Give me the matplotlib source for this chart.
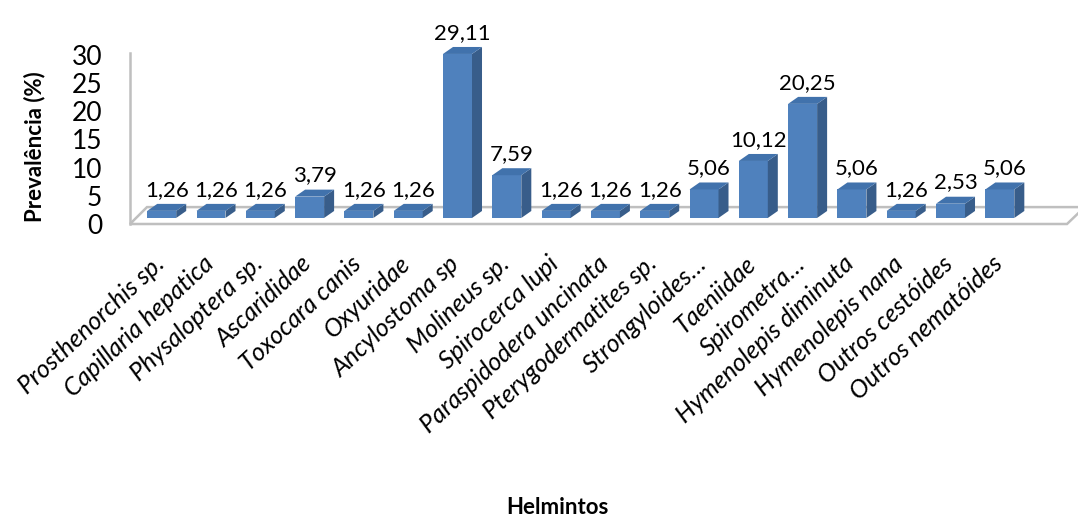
import matplotlib
matplotlib.use("Agg")
import matplotlib.pyplot as plt
from matplotlib.patches import Polygon
from matplotlib.transforms import ScaledTranslation

helmintos = [
    "Prosthenorchis sp.",
    "Capillaria hepatica",
    "Physaloptera sp.",
    "Ascarididae",
    "Toxocara canis",
    "Oxyuridae",
    "Ancylostoma sp",
    "Molineus sp.",
    "Spirocerca lupi",
    "Paraspidodera uncinata",
    "Pterygodermatites sp.",
    "Strongyloides…",
    "Taeniidae",
    "Spirometra…",
    "Hymenolepis diminuta",
    "Hymenolepis nana",
    "Outros cestóides",
    "Outros nematóides",
]
prevalencia = [1.26, 1.26, 1.26, 3.79, 1.26, 1.26, 29.11, 7.59, 1.26,
               1.26, 1.26, 5.06, 10.12, 20.25, 5.06, 1.26, 2.53, 5.06]
yticks = [0, 5, 10, 15, 20, 25, 30]

plt.rcParams["font.family"] = ["Lato", "DejaVu Sans"]

fig = plt.figure(figsize=(10.78, 5.17), dpi=100)
ax = fig.add_axes([130 / 1078, 293 / 517, 945 / 1078, 180.3 / 517])
ax.set_xlim(-0.643, 18.525)
ax.set_ylim(0, 32)

front = "#4F81BD"
side = "#385D8A"
top = "#4172AC"
grey = "#BFBFBF"

# pseudo-3D geometry (data units)
w = 0.588
dx = 0.203
dy = 1.24
base = 1.07

# floor
floor = Polygon([(-0.643, 0), (18.363, 0), (18.72, 3.0), (-0.298, 3.0)],
                closed=True, facecolor="white", edgecolor=grey, lw=1.8,
                clip_on=False, zorder=1)
ax.add_patch(floor)
ax.plot([-0.643, -0.643], [0, 30.3], color=grey, lw=1.8, clip_on=False, zorder=1)

x = list(range(len(prevalencia)))
ax.bar(x, prevalencia, width=w, bottom=base, color=front, zorder=3)
for i, v in zip(x, prevalencia):
    r = i + w / 2
    l = i - w / 2
    h = base + v
    ax.add_patch(Polygon([(r, base), (r + dx, base + dy), (r + dx, h + dy), (r, h)],
                         facecolor=side, edgecolor="none", zorder=3))
    ax.add_patch(Polygon([(l, h), (r, h), (r + dx, h + dy), (l + dx, h + dy)],
                         facecolor=top, edgecolor="none", zorder=3))
    ax.annotate(f"{v:.2f}".replace(".", ","), xy=(i + dx / 2, h + dy),
                xytext=(0, 3), textcoords="offset points",
                ha="center", va="bottom", fontsize=16, clip_on=False)

for s in ax.spines.values():
    s.set_visible(False)

ax.set_yticks(yticks)
ax.set_yticklabels([str(t) for t in yticks], fontsize=19)
ax.tick_params(axis="y", length=0, pad=20)

ax.set_xticks(x)
ax.set_xticklabels(helmintos, rotation=43, ha="right", rotation_mode="anchor",
                   fontsize=18, style="italic")
ax.tick_params(axis="x", length=0, pad=20)
shift = ScaledTranslation(-9 / 100, 0, fig.dpi_scale_trans)
for lbl in ax.get_xticklabels():
    lbl.set_transform(lbl.get_transform() + shift)

ax.set_ylabel("Prevalência (%)", fontsize=16, fontweight="bold", va="center")
ax.yaxis.set_label_coords(-95 / 945, 0.427)
ax.set_xlabel("Helmintos", fontsize=16, fontweight="bold", va="center")
ax.xaxis.set_label_coords(427 / 945, -1.575)

fig.savefig("out.png", dpi=100)
